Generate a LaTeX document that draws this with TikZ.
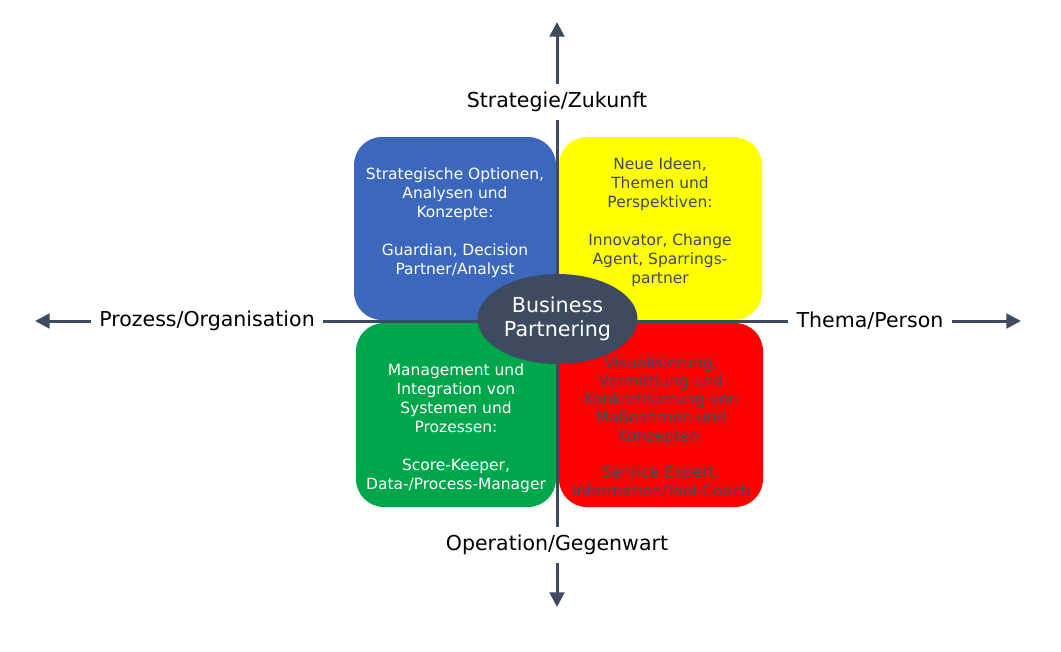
\documentclass[tikz,border=0pt]{standalone}
\usepackage{fontspec}
\setmainfont{DejaVu Sans}
\usepackage{tikz}
\usetikzlibrary{arrows.meta,shapes.geometric}
\definecolor{bpslate}{RGB}{62,74,95}
\definecolor{bpblue}{RGB}{59,103,188}
\definecolor{bpyellow}{RGB}{255,255,0}
\definecolor{bpgreen}{RGB}{0,166,76}
\definecolor{bpred}{RGB}{255,0,0}

\begin{document}
\begin{tikzpicture}[x=0.75pt,y=-0.75pt,
                    quad/.style={rectangle,rounded corners=21pt,inner sep=0pt},
                    quadtext/.style={align=center,inner sep=0pt,
                      font=\fontsize{11.6}{14.25}\selectfont},
                    axislabel/.style={inner sep=6pt,font=\fontsize{15.4}{18}\selectfont},
                    axis/.style={draw=bpslate,line width=2.25pt},
                    axisarrow/.style={axis,-{Triangle[length=11pt,width=11pt]}}]

  \useasboundingbox (0,0) rectangle (1061,651);

  % the four fields
  \node (strategy) [quad,fill=bpblue,minimum width=151.5pt,minimum height=137.25pt] at (455,228.5) {};
  \node (ideas) [quad,fill=bpyellow,minimum width=152.25pt,minimum height=137.25pt] at (660.5,228.5) {};
  \node (systems) [quad,fill=bpgreen,minimum width=150pt,minimum height=138pt] at (456,415) {};
  \node (measures) [quad,fill=bpred,minimum width=153pt,minimum height=138pt] at (661,415) {};

  \node (strategy text) [quadtext,text=white] at (455,223)
    {Strategische Optionen,\\Analysen und\\Konzepte:\\[1.2em]Guardian, Decision\\Partner/Analyst};
  \node (ideas text) [quadtext,text=bpslate] at (660,222)
    {Neue Ideen,\\Themen und\\Perspektiven:\\[1.2em]Innovator, Change\\Agent, Sparrings-\\partner};
  \node (systems text) [quadtext,text=white] at (456,428)
    {Management und\\Integration von\\Systemen und\\Prozessen:\\[1.2em]Score-Keeper,\\Data-/Process-Manager};
  \node (measures text) [quadtext,text=bpslate,font=\fontsize{11.6}{13.7}\selectfont] at (661,427)
    {Visualisierung,\\Vermittlung und\\Konkretisierung von\\Maßnahmen und\\Konzepten:\\[1.2em]Service Expert,\\Information/Tool-Coach};

  % axes
  \node (future) [axislabel] at (557,102) {Strategie/Zukunft};
  \node (present) [axislabel] at (557,545) {Operation/Gegenwart};
  \node (process) [axislabel] at (207,321) {Prozess/Organisation};
  \node (person) [axislabel] at (870,321) {Thema/Person};

  \coordinate (north tip) at (557,22);
  \coordinate (south tip) at (557,607);
  \coordinate (west tip) at (35,321);
  \coordinate (east tip) at (1021,321);

  \draw [axis] (future) -- (present);
  \draw [axis] (process.east) -- (person.west);
  \draw [axisarrow] (future) -- (north tip);
  \draw [axisarrow] (present) -- (south tip);
  \draw [axisarrow] (process.west) -- (west tip);
  \draw [axisarrow] (person.east) -- (east tip);

  % centre
  \node (partnering) [ellipse,fill=bpslate,text=white,align=center,inner sep=0pt,
                      minimum width=120pt,minimum height=67.5pt,
                      font=\fontsize{15.5}{18}\selectfont] at (557.5,319)
    {Business\\Partnering};
\end{tikzpicture}
\end{document}
